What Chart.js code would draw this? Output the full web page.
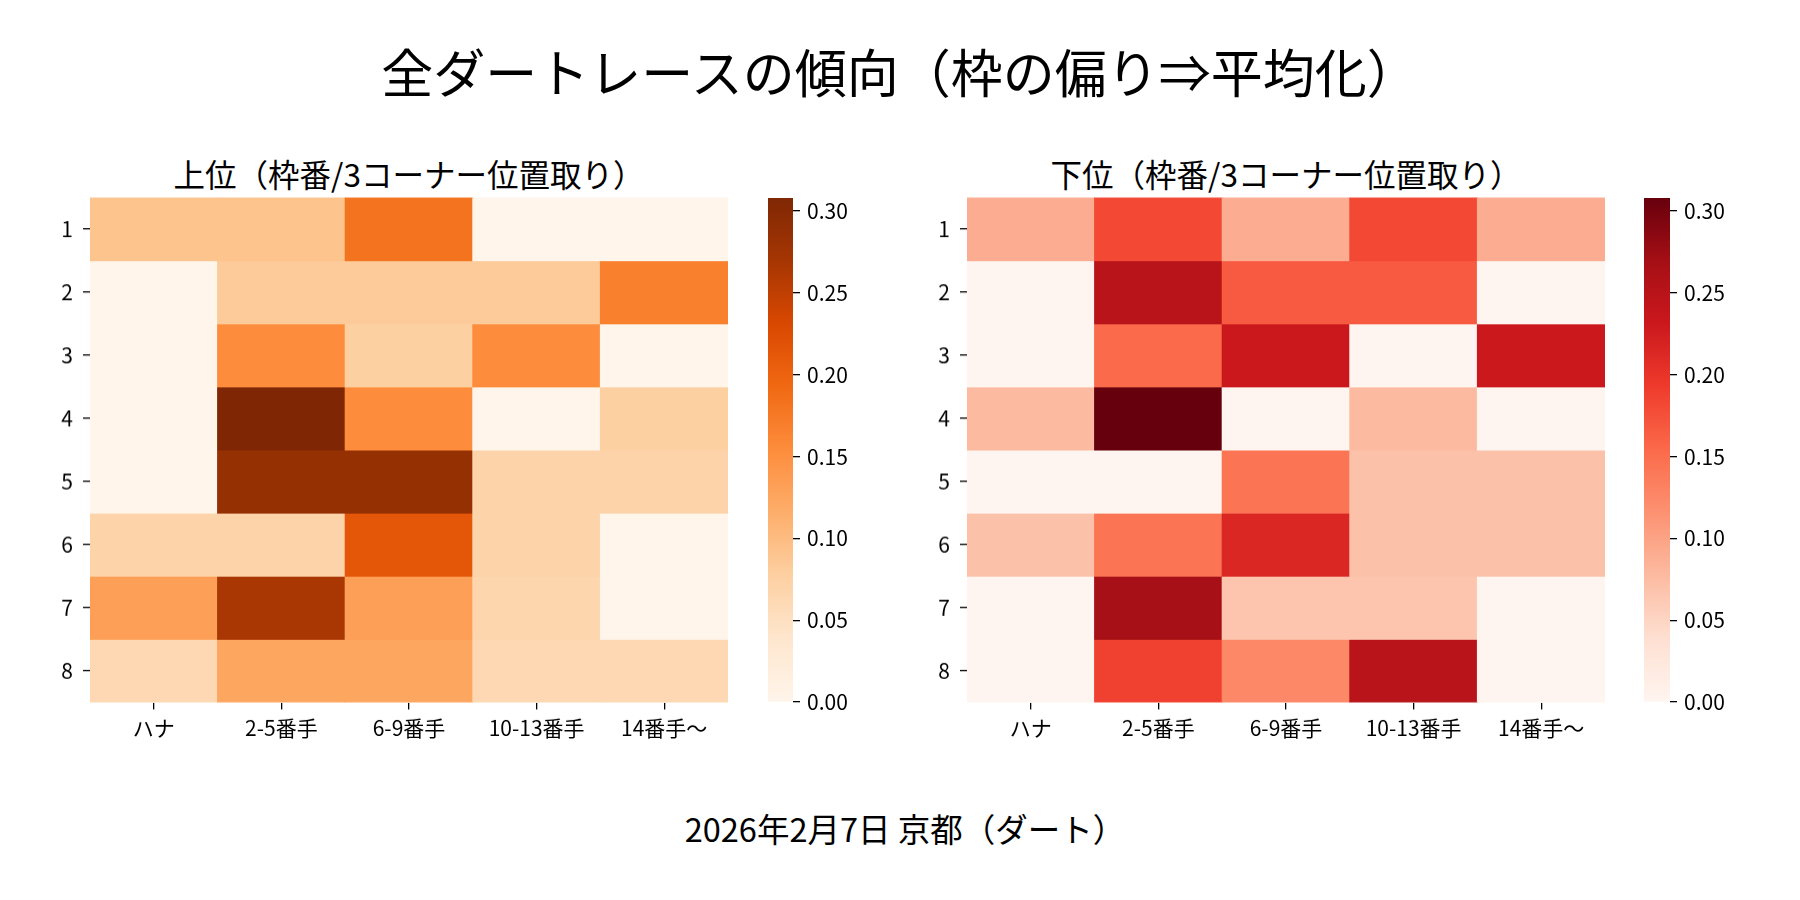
<!DOCTYPE html>
<html lang="ja">
<head>
<meta charset="utf-8">
<title>全ダートレースの傾向</title>
<script src="https://cdn.jsdelivr.net/npm/chart.js@4.4.1/dist/chart.umd.min.js"></script>
<style>
  html, body { margin: 0; padding: 0; background: #fff; }
  #fig { position: relative; width: 1800px; height: 900px; overflow: hidden;
         font-family: 'Noto Sans CJK JP', sans-serif; color: #000; }
  .txt { position: absolute; text-align: center; white-space: nowrap; }
  canvas { position: absolute; }
</style>
</head>
<body>
<div id="fig">
  <div class="txt" style="left:0;width:1800px;top:41px;height:60px;line-height:60px;font-size:52px;">全ダートレースの傾向（枠の偏り⇒平均化）</div>
  <div class="txt" style="left:90px;width:638px;top:153px;height:40px;line-height:40px;font-size:31.5px;">上位（枠番/3コーナー位置取り）</div>
  <div class="txt" style="left:967px;width:638px;top:153px;height:40px;line-height:40px;font-size:31.5px;">下位（枠番/3コーナー位置取り）</div>
  <div class="txt" style="left:5px;width:1800px;top:808px;height:40px;line-height:40px;font-size:32.5px;">2026年2月7日 京都（ダート）</div>

  <canvas id="topHeat" width="708" height="574"></canvas>
  <canvas id="topBar" width="95" height="534"></canvas>
  <canvas id="bottomHeat" width="708" height="574"></canvas>
  <canvas id="bottomBar" width="96" height="534"></canvas>
</div>
<script>
// columns = 3コーナー位置取り, rows = 枠番
var cols = ['ハナ', '2-5番手', '6-9番手', '10-13番手', '14番手〜'];
var rows = ['1', '2', '3', '4', '5', '6', '7', '8'];

// 上位
var topValues = [
    [0.091, 0.091, 0.182, 0,     0],
    [0,     0.083, 0.083, 0.083, 0.167],
    [0,     0.154, 0.077, 0.154, 0],
    [0,     0.308, 0.154, 0,     0.077],
    [0,     0.286, 0.286, 0.071, 0.071],
    [0.071, 0.071, 0.214, 0.071, 0],
    [0.133, 0.267, 0.133, 0.067, 0],
    [0.063, 0.125, 0.125, 0.063, 0.063]
];

// 下位
var bottomValues = [
    [0.091, 0.182, 0.091, 0.182, 0.091],
    [0,     0.250, 0.167, 0.167, 0],
    [0,     0.154, 0.231, 0,     0.231],
    [0.077, 0.308, 0,     0.077, 0],
    [0,     0,     0.143, 0.071, 0.071],
    [0.071, 0.143, 0.214, 0.071, 0.071],
    [0,     0.267, 0.067, 0.067, 0],
    [0,     0.188, 0.125, 0.250, 0]
];

var cbTicks = [0, 0.05, 0.10, 0.15, 0.20, 0.25, 0.30];

var orangesStops = ['#fff5eb', '#fee6ce', '#fdd0a2', '#fdae6b', '#fd8d3c', '#f16913', '#d94801', '#a63603', '#7f2704'];
var redsStops = ['#fff5f0', '#fee0d2', '#fcbba1', '#fc9272', '#fb6a4a', '#ef3b2c', '#cb181d', '#a50f15', '#67000d'];

var hexToRgb = function(h){
    return [parseInt(h.substr(1, 2), 16), parseInt(h.substr(3, 2), 16), parseInt(h.substr(5, 2), 16)];
};

var cmap = function(stops, t){
    t = Math.max(0, Math.min(1, t));
    var pos = t * (stops.length - 1);
    var i = Math.min(Math.floor(pos), stops.length - 2);
    var f = pos - i;
    var a = hexToRgb(stops[i]), b = hexToRgb(stops[i + 1]);
    var c = a.map(function(v, k){ return Math.round(v + (b[k] - v) * f); });
    return 'rgb(' + c.join(',') + ')';
};

var maxOf = function(values){
    return Math.max.apply(null, values.map(function(r){ return Math.max.apply(null, r); }));
};

// move/resize a canvas so its plot area lands on the given box
var place = function(chart, box){
    var a = chart.chartArea;
    var w = chart.canvas.width + (box.right - box.left) - (a.right - a.left);
    var h = chart.canvas.height + (box.bottom - box.top) - (a.bottom - a.top);
    chart.resize(w, h);
    a = chart.chartArea;
    chart.canvas.style.left = (box.left - a.left) + 'px';
    chart.canvas.style.top = (box.top - a.top) + 'px';
};

Chart.defaults.font.family = "'Noto Sans CJK JP', sans-serif";
Chart.defaults.font.size = 21;
Chart.defaults.color = '#000';
Chart.defaults.animation = false;
Chart.defaults.plugins.legend.display = false;
Chart.defaults.plugins.tooltip.enabled = false;

var tickGrid = {
    display: true,
    drawOnChartArea: false,
    offset: false,
    tickLength: 7,
    color: '#000',
    lineWidth: 1.3
};

var heatmap = function(id, values, stops, vmax){
    var datasets = rows.map(function(r, i){
        return {
            label: r,
            data: cols.map(function(){ return 1; }),
            backgroundColor: values[i].map(function(v){ return cmap(stops, v / vmax); }),
            borderWidth: 0,
            inflateAmount: 0.5,
            barPercentage: 1,
            categoryPercentage: 1
        };
    });

    return new Chart(document.getElementById(id), {
        type: 'bar',
        data: { labels: cols, datasets: datasets },
        options: {
            responsive: false,
            maintainAspectRatio: false,
            layout: { padding: { top: 20, left: 0, right: 0, bottom: 0 } },
            scales: {
                x: {
                    stacked: true,
                    grid: tickGrid,
                    border: { display: false },
                    ticks: { padding: 6, maxRotation: 0, autoSkip: false },
                    afterFit: function(s){ s.height = 60; }
                },
                y: {
                    stacked: true,
                    reverse: true,
                    min: 0,
                    max: rows.length,
                    grid: tickGrid,
                    border: { display: false },
                    afterBuildTicks: function(s){
                        s.ticks = rows.map(function(r, i){ return { value: i + 0.5 }; });
                    },
                    ticks: {
                        padding: 10,
                        callback: function(v){ return rows[Math.floor(v)]; }
                    },
                    afterFit: function(s){ s.width = 70; }
                }
            }
        }
    });
};

var colorbar = function(id, stops, vmax){
    return new Chart(document.getElementById(id), {
        type: 'bar',
        data: {
            labels: [''],
            datasets: [{
                data: [[0, vmax]],
                borderWidth: 0,
                barPercentage: 1,
                categoryPercentage: 1,
                backgroundColor: function(ctx){
                    var area = ctx.chart.chartArea;
                    if(!area)
                        return stops[0];
                    var g = ctx.chart.ctx.createLinearGradient(0, area.bottom, 0, area.top);
                    stops.forEach(function(c, i){ g.addColorStop(i / (stops.length - 1), c); });
                    return g;
                }
            }]
        },
        options: {
            responsive: false,
            maintainAspectRatio: false,
            layout: { padding: { top: 20, bottom: 20, left: 0, right: 0 } },
            scales: {
                x: { display: false },
                y: {
                    position: 'right',
                    min: 0,
                    max: vmax,
                    grid: tickGrid,
                    border: { display: false },
                    afterBuildTicks: function(s){
                        s.ticks = cbTicks.map(function(v){ return { value: v }; });
                    },
                    ticks: {
                        padding: 7,
                        callback: function(v){ return Number(v).toFixed(2); }
                    },
                    afterFit: function(s){ s.width = 70; }
                }
            }
        }
    });
};

var topMax = maxOf(topValues);
var bottomMax = maxOf(bottomValues);

place(heatmap('topHeat', topValues, orangesStops, topMax), { left: 90, top: 198, right: 728, bottom: 702 });
place(colorbar('topBar', orangesStops, topMax), { left: 768, top: 198, right: 793, bottom: 702 });
place(heatmap('bottomHeat', bottomValues, redsStops, bottomMax), { left: 967, top: 198, right: 1605, bottom: 702 });
place(colorbar('bottomBar', redsStops, bottomMax), { left: 1644, top: 198, right: 1670, bottom: 702 });
</script>
</body>
</html>
